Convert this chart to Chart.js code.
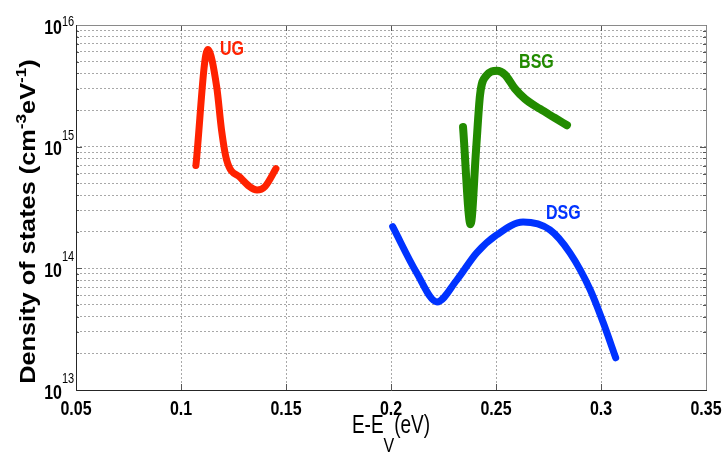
<!DOCTYPE html>
<html>
<head>
<meta charset="utf-8">
<script src="https://cdn.jsdelivr.net/npm/chart.js@4/dist/chart.umd.min.js"></script>
<style>
  html, body { margin: 0; padding: 0; background: #fff; }
  #wrap { width: 725px; height: 459px; }
</style>
</head>
<body>
<div id="wrap"><canvas id="c" width="725" height="459"></canvas></div>
<script>
// tick values
const xTicks = [0.05, 0.1, 0.15, 0.2, 0.25, 0.3, 0.35];
const xTickLabels = ['0.05', '0.1', '0.15', '0.2', '0.25', '0.3', '0.35'];
const yDecades = [13, 14, 15, 16];

// UG (red)
const ugE = [0.1071, 0.1127, 0.1170, 0.1193, 0.1217, 0.1281, 0.1362, 0.1400, 0.1452];
const ugDos = [7.0e14, 6.3e15, 3.1e15, 1.37e15, 7.8e14, 5.6e14, 4.4e14, 4.7e14, 6.6e14];

// BSG (green)
const bsgE = [0.2343, 0.2379, 0.2405, 0.2424, 0.2452, 0.2505, 0.2543, 0.2590, 0.2638, 0.2710, 0.2781, 0.2838];
const bsgDos = [1.45e15, 2.3e14, 9.4e14, 2.66e15, 3.8e15, 4.2e15, 3.9e15, 3.0e15, 2.47e15, 2.04e15, 1.72e15, 1.5e15];

// DSG (blue)
const dsgE = [0.2008, 0.2122, 0.2219, 0.2313, 0.2408, 0.2503, 0.2629, 0.2757, 0.2852, 0.2948, 0.3010, 0.3070];
const dsgDos = [2.2e14, 9.2e13, 5.3e13, 8.0e13, 1.34e14, 1.88e14, 2.4e14, 2.07e14, 1.34e14, 6.7e13, 3.6e13, 1.84e13];

// curve labels: [text, x, y, colour]
const curveLabels = [
  ['UG', 0.1186, 6.3e15, '#ff2200'],
  ['BSG', 0.2610, 4.9e15, '#228b00'],
  ['DSG', 0.2738, 2.85e14, '#0033ff']
];

function pts(xs, ys) {
  return xs.map((x, i) => ({x: x, y: ys[i]}));
}

function yMinorTicks() {
  const out = [];
  for (let e = yDecades[0]; e < yDecades[yDecades.length - 1]; e++) {
    for (let m = 1; m < 10; m++) out.push({value: m * Math.pow(10, e)});
  }
  out.push({value: Math.pow(10, yDecades[yDecades.length - 1])});
  return out;
}

function stretchText(ctx, text, x, y, font, align, baseline, sy) {
  ctx.save();
  ctx.translate(x, y);
  ctx.scale(1, sy);
  ctx.font = font;
  ctx.textAlign = align;
  ctx.textBaseline = baseline;
  ctx.fillText(text, 0, 0);
  ctx.restore();
}

const FONT = 'Arial, "Liberation Sans", sans-serif';

const decorPlugin = {
  id: 'decor',
  beforeDatasetsDraw(chart) {
    const ctx = chart.ctx;
    const a = chart.chartArea;
    const xs = chart.scales.x, ys = chart.scales.y;
    ctx.save();
    ctx.lineWidth = 1;
    // tick marks
    ctx.strokeStyle = '#555';
    ctx.beginPath();
    xTicks.forEach(v => {
      const px = Math.round(xs.getPixelForValue(v)) + 0.5;
      ctx.moveTo(px, a.bottom); ctx.lineTo(px, a.bottom - 6);
      ctx.moveTo(px, a.top); ctx.lineTo(px, a.top + 6);
    });
    yMinorTicks().forEach(t => {
      const py = Math.round(ys.getPixelForValue(t.value)) + 0.5;
      const isMajor = Math.abs(Math.log10(t.value) - Math.round(Math.log10(t.value))) < 1e-9;
      const len = isMajor ? 6 : 3;
      ctx.moveTo(a.left, py); ctx.lineTo(a.left + len, py);
      ctx.moveTo(a.right, py); ctx.lineTo(a.right - len, py);
    });
    ctx.stroke();
    // box
    ctx.strokeStyle = '#8a8a8a';
    ctx.beginPath();
    ctx.moveTo(a.left, a.top + 0.5); ctx.lineTo(a.right + 0.5, a.top + 0.5);
    ctx.lineTo(a.right + 0.5, a.bottom);
    ctx.stroke();
    ctx.strokeStyle = '#262626';
    ctx.beginPath();
    ctx.moveTo(a.left + 0.5, a.top); ctx.lineTo(a.left + 0.5, a.bottom + 0.5);
    ctx.lineTo(a.right + 1, a.bottom + 0.5);
    ctx.stroke();
    ctx.restore();
  },
  afterDraw(chart) {
    const ctx = chart.ctx;
    const a = chart.chartArea;
    const xs = chart.scales.x, ys = chart.scales.y;
    ctx.save();
    ctx.fillStyle = '#000';
    // x tick labels
    xTicks.forEach((v, i) => {
      stretchText(ctx, xTickLabels[i], xs.getPixelForValue(v), a.bottom + 19,
        'bold 16px ' + FONT, 'center', 'middle', 1.3);
    });
    // y tick labels, 10^n
    yDecades.forEach(e => {
      const py = ys.getPixelForValue(Math.pow(10, e));
      stretchText(ctx, '10', a.left - 14, py + 3, 'bold 16px ' + FONT, 'right', 'middle', 1.3);
      stretchText(ctx, String(e), a.left - 14, Math.max(py - 11, 22), '11px ' + FONT, 'left', 'middle', 1.3);
    });
    // x title: E-E_V(eV)
    ctx.save();
    const mainF = '19px ' + FONT, subF = '16px ' + FONT;
    ctx.font = mainF;
    const w1 = ctx.measureText('E-E').width, w3 = ctx.measureText('(eV)').width;
    ctx.font = subF;
    const w2 = ctx.measureText('V').width;
    let tx = (a.left + a.right) / 2 - (w1 + w2 + w3) / 2;
    stretchText(ctx, 'E-E', tx, 433, mainF, 'left', 'alphabetic', 1.35);
    stretchText(ctx, 'V', tx + w1, 452, subF, 'left', 'alphabetic', 1.3);
    stretchText(ctx, '(eV)', tx + w1 + w2, 433, mainF, 'left', 'alphabetic', 1.35);
    ctx.restore();
    // y title
    const parts = [
      ['Density of states (cm', false], ['-3', true], ['eV', false], ['-1', true], [')', false]
    ];
    const bigF = 'bold 22px ' + FONT, supF = 'bold 15px ' + FONT;
    let total = 0;
    parts.forEach(p => { ctx.font = p[1] ? supF : bigF; total += ctx.measureText(p[0]).width; });
    ctx.save();
    ctx.translate(35, (a.top + a.bottom) / 2 + 14);
    ctx.rotate(-Math.PI / 2);
    ctx.scale(1.15, 1);
    ctx.textBaseline = 'alphabetic';
    ctx.textAlign = 'left';
    let cx = -total / 2;
    parts.forEach(p => {
      ctx.font = p[1] ? supF : bigF;
      ctx.fillText(p[0], cx, p[1] ? -9 : 0);
      cx += ctx.measureText(p[0]).width;
    });
    ctx.restore();
    // curve labels
    curveLabels.forEach(l => {
      ctx.fillStyle = l[3];
      stretchText(ctx, l[0], xs.getPixelForValue(l[1]), ys.getPixelForValue(l[2]),
        'bold 16px ' + FONT, 'left', 'middle', 1.3);
    });
    ctx.restore();
  }
};

const lineDs = (label, xs, ys, color, w) => ({
  label: label,
  data: pts(xs, ys),
  borderColor: color,
  backgroundColor: color,
  borderWidth: w,
  pointRadius: 0,
  cubicInterpolationMode: 'monotone',
  borderCapStyle: 'round',
  borderJoinStyle: 'round',
  fill: false
});

new Chart(document.getElementById('c'), {
  type: 'line',
  data: {
    datasets: [
      lineDs('UG', ugE, ugDos, '#ff2200', 7),
      lineDs('BSG', bsgE, bsgDos, '#228b00', 8),
      lineDs('DSG', dsgE, dsgDos, '#0033ff', 7)
    ]
  },
  options: {
    responsive: false,
    animation: false,
    layout: {padding: {left: 76, top: 25, right: 19, bottom: 69}},
    plugins: {legend: {display: false}, tooltip: {enabled: false}},
    scales: {
      x: {
        type: 'linear',
        min: 0.05,
        max: 0.35,
        afterBuildTicks: s => { s.ticks = xTicks.map(v => ({value: v})); },
        afterFit: s => { s.height = 0; },
        ticks: {display: false},
        grid: {color: '#a8a8a8', lineWidth: 1, drawTicks: false},
        border: {display: false, dash: [2, 2]}
      },
      y: {
        type: 'logarithmic',
        min: 1e13,
        max: 1e16,
        afterBuildTicks: s => { s.ticks = yMinorTicks(); },
        afterFit: s => { s.width = 0; },
        ticks: {display: false},
        grid: {color: '#a8a8a8', lineWidth: 1, drawTicks: false},
        border: {display: false, dash: [2, 2]}
      }
    }
  },
  plugins: [decorPlugin]
});
</script>
</body>
</html>
